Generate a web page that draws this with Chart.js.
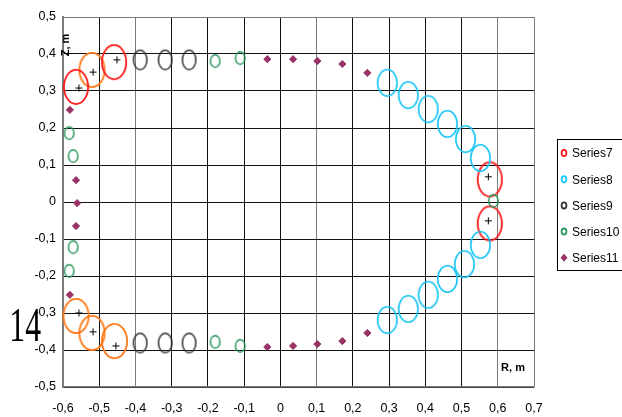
<!DOCTYPE html>
<html>
<head>
<meta charset="utf-8">
<script src="https://cdn.jsdelivr.net/npm/chart.js@4.4.1/dist/chart.umd.min.js"></script>
<style>
  html, body { margin: 0; padding: 0; background: #fff; }
  #wrap { position: relative; width: 622px; height: 417px; }
</style>
</head>
<body>
<div id="wrap"><canvas id="chart" width="622" height="417"></canvas></div>
<script>
// tick labels (comma decimals, as in the original)
const xTickLabels = ["-0,6", "-0,5", "-0,4", "-0,3", "-0,2", "-0,1", "0", "0,1", "0,2", "0,3", "0,4", "0,5", "0,6", "0,7"];
const yTickLabels = ["-0,5", "-0,4", "-0,3", "-0,2", "-0,1", "0", "0,1", "0,2", "0,3", "0,4", "0,5"];

// Series7 (red coils)
const series7R = [-0.564, -0.459, 0.578, 0.578];
const series7Z = [0.311, 0.378, 0.061, -0.058];
// orange coils (not in legend)
const orangeR = [-0.520, -0.564, -0.520, -0.458];
const orangeZ = [0.357, -0.308, -0.354, -0.376];
// coil centres (+)
const crossR = [-0.556, -0.517, -0.451, -0.556, -0.517, -0.454, 0.574, 0.574];
const crossZ = [0.308, 0.351, 0.384, -0.300, -0.351, -0.389, 0.068, -0.051];
// Series8 (cyan)
const series8R = [0.295, 0.353, 0.408, 0.461, 0.511, 0.552, 0.295, 0.353, 0.408, 0.461, 0.508, 0.552];
const series8Z = [0.322, 0.289, 0.251, 0.211, 0.170, 0.119, -0.319, -0.289, -0.251, -0.208, -0.168, -0.116];
// Series9 (black)
const series9R = [-0.387, -0.318, -0.252, -0.387, -0.318, -0.252];
const series9Z = [0.384, 0.384, 0.384, -0.381, -0.381, -0.381];
// Series10 (green)
const series10R = [-0.180, -0.111, -0.180, -0.111, -0.583, -0.572, -0.572, -0.583, 0.588];
const series10Z = [0.381, 0.389, -0.378, -0.389, 0.186, 0.124, -0.122, -0.186, 0.003];
// Series11 (purple diamonds)
const series11R = [-0.036, 0.035, 0.102, 0.171, 0.240, -0.036, 0.035, 0.102, 0.171, 0.240, -0.581, -0.564, -0.561, -0.564, -0.581];
const series11Z = [0.386, 0.386, 0.381, 0.373, 0.349, -0.392, -0.389, -0.384, -0.376, -0.354, 0.249, 0.059, -0.003, -0.065, -0.251];

function pts(xs, ys) {
    return xs.map((x, i) => ({ x, y: ys[i] }));
}

// the original markers are stretched vertically, so draw them as ellipses
function makeEllipse(w, h, color, lw) {
    const c = document.createElement("canvas");
    c.width = Math.ceil(w + 2);
    c.height = Math.ceil(h + 2);
    const ctx = c.getContext("2d");
    ctx.strokeStyle = color;
    ctx.lineWidth = lw;
    ctx.beginPath();
    ctx.ellipse(c.width / 2, c.height / 2, (w - lw) / 2, (h - lw) / 2, 0, 0, Math.PI * 2);
    ctx.stroke();
    return c;
}

const RED = "#ff1a1a";
const ORANGE = "#ff7a1a";
const CYAN = "#1ac6f5";
const BLACK = "#333333";
const GREEN = "#2e9960";
const PURPLE = "#993366";

const legendItems = [
    { label: "Series7", color: RED, diamond: false },
    { label: "Series8", color: CYAN, diamond: false },
    { label: "Series9", color: BLACK, diamond: false },
    { label: "Series10", color: GREEN, diamond: false },
    { label: "Series11", color: PURPLE, diamond: true },
];

const extrasPlugin = {
    id: "extras",
    afterDraw(chart) {
        const ctx = chart.ctx;
        ctx.save();
        // axis titles
        ctx.fillStyle = "#000";
        ctx.font = "bold 11px 'Liberation Sans', Arial, sans-serif";
        ctx.textAlign = "center";
        ctx.textBaseline = "middle";
        ctx.fillText("R, m", 513, 368);
        ctx.save();
        ctx.translate(66, 45);
        ctx.rotate(-Math.PI / 2);
        ctx.fillText("Z, m", 0, 0);
        ctx.restore();

        // stray label on the left
        ctx.save();
        ctx.translate(41, 341);
        ctx.scale(0.66, 1);
        ctx.font = "48px 'Liberation Serif', 'Times New Roman', serif";
        ctx.textAlign = "right";
        ctx.textBaseline = "alphabetic";
        ctx.fillText("14", 0, 0);
        ctx.restore();

        // legend
        ctx.fillStyle = "#fff";
        ctx.fillRect(557.5, 139.5, 80, 131);
        ctx.strokeStyle = "#000";
        ctx.lineWidth = 1;
        ctx.strokeRect(557.5, 139.5, 80, 131);
        ctx.font = "12px 'Liberation Sans', Arial, sans-serif";
        ctx.textAlign = "left";
        legendItems.forEach((item, i) => {
            const y = 153 + i * 26.2;
            if (item.diamond) {
                ctx.fillStyle = item.color;
                ctx.beginPath();
                ctx.moveTo(564, y - 4);
                ctx.lineTo(567.5, y);
                ctx.lineTo(564, y + 4);
                ctx.lineTo(560.5, y);
                ctx.closePath();
                ctx.fill();
            } else {
                ctx.strokeStyle = item.color;
                ctx.lineWidth = 1.8;
                ctx.beginPath();
                ctx.ellipse(564, y, 2.4, 3.1, 0, 0, Math.PI * 2);
                ctx.stroke();
            }
            ctx.fillStyle = "#000";
            ctx.fillText(item.label, 572, y + 1);
        });
        ctx.restore();
    },
};

const grayX = [-0.4, 0.1, 0.6, 0.7];
function gridColorX(c) {
    const v = c.tick ? c.tick.value : 0;
    return grayX.some((g) => Math.abs(g - v) < 1e-6) ? "#7a7a7a" : "#111";
}
function gridColorY(c) {
    const v = c.tick ? c.tick.value : 0;
    return Math.abs(v - 0.5) < 1e-6 ? "#7a7a7a" : "#111";
}

const tickFont = { family: "'Liberation Sans', Arial, sans-serif", size: 12.5 };

new Chart(document.getElementById("chart"), {
    type: "scatter",
    data: {
        datasets: [
            {
                label: "centres",
                data: pts(crossR, crossZ),
                pointStyle: "cross",
                pointRadius: 3.5,
                borderColor: "#000",
                borderWidth: 1,
            },
            {
                label: "Series10",
                data: pts(series10R, series10Z),
                pointStyle: makeEllipse(11, 14, GREEN, 1.5),
                pointRadius: 5,
            },
            {
                label: "Series11",
                data: pts(series11R, series11Z),
                pointStyle: "rectRot",
                pointRadius: 3.6,
                backgroundColor: PURPLE,
                borderColor: PURPLE,
                borderWidth: 1,
            },
            {
                label: "Series9",
                data: pts(series9R, series9Z),
                pointStyle: makeEllipse(15, 21, BLACK, 1.5),
                pointRadius: 7,
            },
            {
                label: "Series8",
                data: pts(series8R, series8Z),
                pointStyle: makeEllipse(21, 28, CYAN, 1.6),
                pointRadius: 10,
            },
            {
                label: "Series7",
                data: pts(series7R, series7Z),
                pointStyle: makeEllipse(26, 36, RED, 1.8),
                pointRadius: 12,
            },
            {
                label: "orange",
                data: pts(orangeR, orangeZ),
                pointStyle: makeEllipse(27, 36, ORANGE, 1.8),
                pointRadius: 12,
            },
        ],
    },
    options: {
        responsive: false,
        animation: false,
        devicePixelRatio: 1,
        clip: false,
        layout: { padding: { left: 0, top: 17, right: 88, bottom: 0 } },
        plugins: {
            legend: { display: false },
            tooltip: { enabled: false },
        },
        scales: {
            x: {
                type: "linear",
                min: -0.6,
                max: 0.7,
                afterFit: (s) => { s.height = 30; },
                ticks: {
                    stepSize: 0.1,
                    padding: 14,
                    color: "#000",
                    font: tickFont,
                    maxRotation: 0,
                    callback: (v, i) => xTickLabels[i],
                },
                grid: { color: gridColorX, lineWidth: 1, drawTicks: false },
                border: { color: "#7a7a7a", width: 1.5 },
            },
            y: {
                type: "linear",
                min: -0.5,
                max: 0.5,
                afterFit: (s) => { s.width = 63; },
                ticks: {
                    stepSize: 0.1,
                    padding: 7,
                    color: "#000",
                    font: tickFont,
                    callback: (v, i) => yTickLabels[i],
                },
                grid: { color: gridColorY, lineWidth: 1, drawTicks: false },
                border: { color: "#7a7a7a", width: 2 },
            },
        },
    },
    plugins: [extrasPlugin],
});
</script>
</body>
</html>
